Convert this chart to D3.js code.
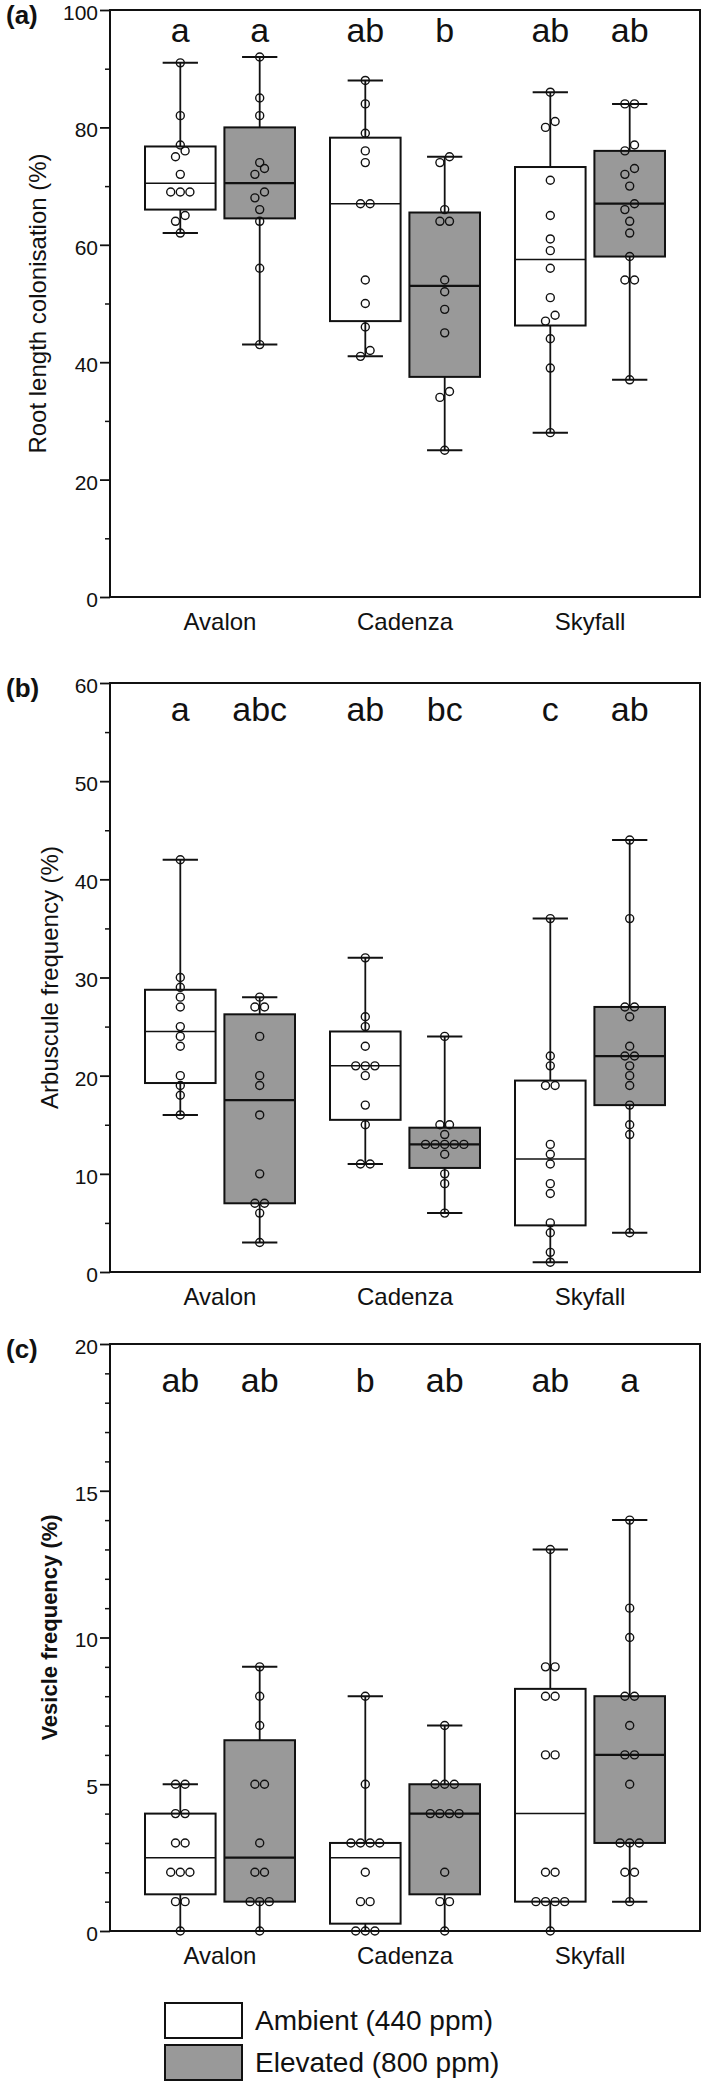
<!DOCTYPE html>
<html>
<head>
<meta charset="utf-8">
<script src="https://cdn.jsdelivr.net/npm/d3@7"></script>
<style>
  html, body { margin: 0; padding: 0; background: #fff; }
  svg { display: block; font-family: "Liberation Sans", Arial, sans-serif; }
</style>
</head>
<body>
<svg id="chart" width="709" height="2084"></svg>
<script>
// ---------------- DATA ----------------
const categories = ["Avalon", "Cadenza", "Skyfall"];
const seriesNames = ["Ambient (440 ppm)", "Elevated (800 ppm)"];

// (a) Root length colonisation (%)
const rootAmbient = [
  [91, 82, 77, 76, 75, 72, 69, 69, 69, 65, 64, 62],
  [88, 84, 79, 76, 74, 67, 67, 54, 50, 46, 42, 41],
  [86, 81, 80, 71, 65, 61, 59, 56, 51, 48, 47, 44, 39, 28]
];
const rootElevated = [
  [92, 85, 82, 74, 73, 72, 69, 68, 66, 64, 56, 43],
  [75, 74, 66, 64, 64, 54, 52, 49, 45, 35, 34, 25],
  [84, 84, 77, 76, 73, 72, 70, 67, 66, 64, 62, 58, 54, 54, 37]
];
// box stats [q1, median, q3]
const rootAmbientBox = [[66, 70.5, 76.75], [47, 67, 78.25], [46.25, 57.5, 73.25]];
const rootElevatedBox = [[64.5, 70.5, 80], [37.5, 53, 65.5], [58, 67, 76]];
const rootLetters = [["a", "a"], ["ab", "b"], ["ab", "ab"]];
const rootTicks = [0, 20, 40, 60, 80, 100];
const rootMinorTicks = [10, 30, 50, 70, 90];

// (b) Arbuscule frequency (%)
const arbAmbient = [
  [42, 30, 29, 28, 27, 25, 24, 23, 20, 19, 18, 16],
  [32, 26, 25, 23, 21, 21, 21, 20, 17, 15, 11, 11],
  [36, 22, 21, 19, 19, 13, 12, 11, 9, 8, 5, 4, 2, 1]
];
const arbElevated = [
  [28, 27, 27, 24, 20, 19, 16, 10, 7, 7, 6, 3],
  [24, 15, 15, 14, 13, 13, 13, 13, 13, 12, 10, 9, 6],
  [44, 36, 27, 27, 26, 23, 22, 22, 21, 20, 19, 17, 15, 14, 4]
];
const arbAmbientBox = [[19.25, 24.5, 28.75], [15.5, 21, 24.5], [4.75, 11.5, 19.5]];
const arbElevatedBox = [[7, 17.5, 26.25], [10.6, 13, 14.7], [17, 22, 27]];
const arbLetters = [["a", "abc"], ["ab", "bc"], ["c", "ab"]];
const arbTicks = [0, 10, 20, 30, 40, 50, 60];
const arbMinorTicks = [5, 15, 25, 35, 45, 55];

// (c) Vesicle frequency (%)
const vesAmbient = [
  [5, 5, 4, 4, 3, 3, 2, 2, 2, 1, 1, 0],
  [8, 5, 3, 3, 3, 3, 2, 1, 1, 0, 0, 0],
  [13, 9, 9, 8, 8, 6, 6, 2, 2, 1, 1, 1, 1, 0]
];
const vesElevated = [
  [9, 8, 7, 5, 5, 3, 2, 2, 1, 1, 1, 0],
  [7, 5, 5, 5, 4, 4, 4, 4, 2, 1, 1, 0],
  [14, 11, 10, 8, 8, 7, 6, 6, 5, 3, 3, 3, 2, 2, 1]
];
const vesAmbientBox = [[1.25, 2.5, 4], [0.25, 2.5, 3], [1, 4, 8.25]];
const vesElevatedBox = [[1, 2.5, 6.5], [1.25, 4, 5], [3, 6, 8]];
const vesLetters = [["ab", "ab"], ["b", "ab"], ["ab", "a"]];
const vesTicks = [0, 5, 10, 15, 20];
const vesMinorTicks = [1, 2, 3, 4, 6, 7, 8, 9, 11, 12, 13, 14, 16, 17, 18, 19];

// ---------------- LAYOUT ----------------
const panels = [
  { tag: "(a)", top: 10, bottom: 597, domain: [0, 100], ticks: rootTicks, minor: rootMinorTicks,
    title: "Root length colonisation (%)", titleBold: false, titleX: 40, titleDy: 0, letterDy: 32,
    series: [rootAmbient, rootElevated], boxes: [rootAmbientBox, rootElevatedBox], letters: rootLetters },
  { tag: "(b)", top: 683, bottom: 1272, domain: [0, 60], ticks: arbTicks, minor: arbMinorTicks,
    title: "Arbuscule frequency (%)", titleBold: false, titleX: 52, titleDy: 0, letterDy: 38,
    series: [arbAmbient, arbElevated], boxes: [arbAmbientBox, arbElevatedBox], letters: arbLetters },
  { tag: "(c)", top: 1344, bottom: 1931, domain: [0, 20], ticks: vesTicks, minor: vesMinorTicks,
    title: "Vesicle frequency (%)", titleBold: true, titleX: 51, titleDy: -10, letterDy: 48,
    series: [vesAmbient, vesElevated], boxes: [vesAmbientBox, vesElevatedBox], letters: vesLetters }
];

const left = 110, right = 700;
const ink = "#111";
const fills = ["#ffffff", "#999999"];
const svg = d3.select("#chart");

const x0 = d3.scaleBand().domain(categories).range([left, right]).paddingInner(0).paddingOuter(0.0946);
const x1 = d3.scaleBand().domain([0, 1]).range([0, x0.bandwidth()]).paddingInner(0.111).paddingOuter(0.2205);

const spacing = 9.6, rowThresh = 7, r = 4;

function swarm(values, y) {
  const sorted = values.slice().sort((a, b) => a - b);
  const rows = [];
  let cur = null;
  sorted.forEach(v => {
    const py = y(v);
    if (cur && Math.abs(cur.y0 - py) < rowThresh) cur.items.push(v);
    else { cur = { y0: py, items: [v] }; rows.push(cur); }
  });
  const out = [];
  rows.forEach(row => {
    const k = row.items.length;
    row.items.forEach((v, i) => out.push({ v, dx: (i - (k - 1) / 2) * spacing }));
  });
  return out;
}

panels.forEach(p => {
  const y = d3.scaleLinear().domain(p.domain).range([p.bottom, p.top]);
  const g = svg.append("g");

  // axis ticks
  const ax = g.append("g").attr("transform", `translate(${left},0)`)
    .call(d3.axisLeft(y).tickValues(p.ticks).tickSize(10).tickPadding(2));
  ax.select(".domain").remove();
  ax.selectAll("line").attr("stroke", ink).attr("stroke-width", 1.8);
  ax.selectAll("text").attr("fill", ink).attr("dy", "0.45em").style("font-size", "21px");
  const axm = g.append("g").attr("transform", `translate(${left},0)`)
    .call(d3.axisLeft(y).tickValues(p.minor).tickSize(5).tickFormat(""));
  axm.select(".domain").remove();
  axm.selectAll("line").attr("stroke", ink).attr("stroke-width", 1.5);

  // frame
  g.append("rect").attr("x", left).attr("y", p.top)
    .attr("width", right - left).attr("height", p.bottom - p.top)
    .attr("fill", "none").attr("stroke", ink).attr("stroke-width", 2);

  // boxes
  categories.forEach((cat, ci) => {
    [0, 1].forEach(si => {
      const vals = p.series[si][ci];
      const [q1, med, q3] = p.boxes[si][ci];
      const bx = x0(cat) + x1(si);
      const bw = x1.bandwidth();
      const cx = bx + bw / 2;
      const mn = d3.min(vals), mx = d3.max(vals);
      // whisker
      g.append("line").attr("x1", cx).attr("x2", cx).attr("y1", y(mn)).attr("y2", y(mx))
        .attr("stroke", ink).attr("stroke-width", 1.8);
      [mn, mx].forEach(v => g.append("line")
        .attr("x1", cx - bw / 4).attr("x2", cx + bw / 4).attr("y1", y(v)).attr("y2", y(v))
        .attr("stroke", ink).attr("stroke-width", 2));
      // box
      g.append("rect").attr("x", bx).attr("y", y(q3)).attr("width", bw).attr("height", y(q1) - y(q3))
        .attr("fill", fills[si]).attr("stroke", ink).attr("stroke-width", 2);
      g.append("line").attr("x1", bx).attr("x2", bx + bw).attr("y1", y(med)).attr("y2", y(med))
        .attr("stroke", ink).attr("stroke-width", si === 0 ? 1.5 : 2.2);
      // points
      swarm(vals, y).forEach(d => {
        g.append("circle").attr("cx", cx + d.dx).attr("cy", y(d.v)).attr("r", r)
          .attr("fill", "none").attr("stroke", ink).attr("stroke-width", 1.4);
      });
      // significance letter
      g.append("text").attr("x", cx).attr("y", p.top + p.letterDy)
        .attr("text-anchor", "middle").attr("fill", ink).style("font-size", "34px")
        .text(p.letters[ci][si]);
    });
    // category label
    g.append("text").attr("x", x0(cat) + x0.bandwidth() / 2).attr("y", p.bottom + 33)
      .attr("text-anchor", "middle").attr("fill", ink).style("font-size", "24px").text(cat);
  });

  // y title
  const cy = (p.top + p.bottom) / 2 + p.titleDy;
  g.append("text").attr("transform", `translate(${p.titleX},${cy}) rotate(-90)`)
    .attr("text-anchor", "middle").attr("dominant-baseline", "middle").attr("fill", ink)
    .style("font-size", p.titleBold ? "22px" : "24px").style("font-weight", p.titleBold ? "bold" : "normal")
    .text(p.title);

  // panel tag
  g.append("text").attr("x", 6).attr("y", p.top + 14).attr("fill", ink)
    .style("font-size", "26px").style("font-weight", "bold").text(p.tag);
});

// legend
const legend = svg.append("g");
seriesNames.forEach((name, i) => {
  const ly = 2003 + i * 42;
  legend.append("rect").attr("x", 165).attr("y", ly).attr("width", 77).attr("height", 35)
    .attr("fill", fills[i]).attr("stroke", ink).attr("stroke-width", 2);
  legend.append("text").attr("x", 255).attr("y", ly + 27).attr("fill", ink)
    .style("font-size", "28px").text(name);
});
</script>
</body>
</html>
